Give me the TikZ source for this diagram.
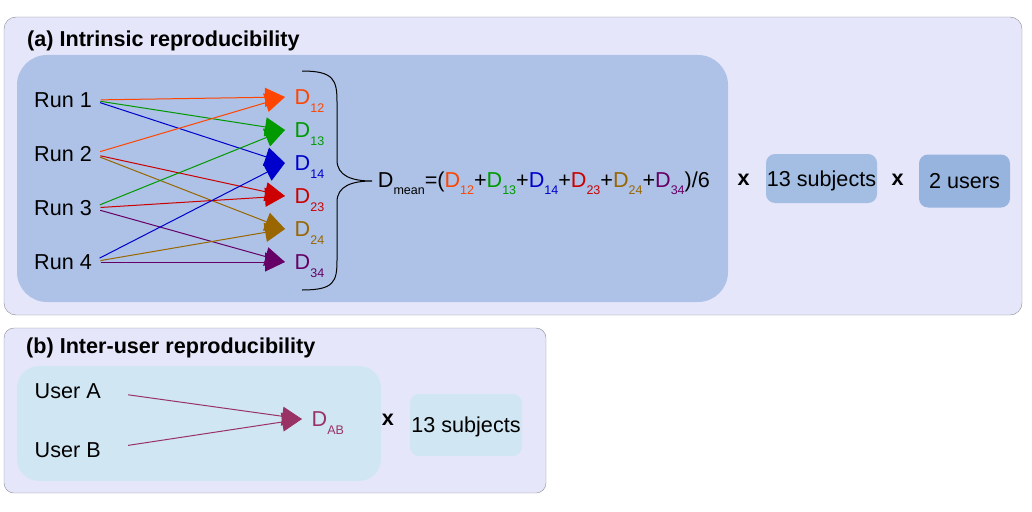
\documentclass[tikz,border=0pt]{standalone}
\usepackage{fontspec}
\setmainfont{Liberation Sans}
\usepackage{tikz}
\usetikzlibrary{arrows.meta}

\definecolor{c12}{HTML}{FF4500}
\definecolor{c13}{HTML}{009900}
\definecolor{c14}{HTML}{0000CC}
\definecolor{c23}{HTML}{CC0000}
\definecolor{c24}{HTML}{996600}
\definecolor{c34}{HTML}{660066}
\definecolor{cab}{HTML}{993366}
\definecolor{panelfill}{HTML}{E6E6FA}
\definecolor{panelline}{HTML}{8C8C96}
\definecolor{runsfill}{HTML}{ADC2E6}
\definecolor{subjfill}{HTML}{A3BDE3}
\definecolor{usersfill}{HTML}{97B4DE}
\definecolor{userfill}{HTML}{D0E6F3}

\newcommand{\sbs}[1]{\raisebox{-7.5pt}{\fontsize{12.5}{13}\selectfont #1}}
\newcommand{\dd}[2]{\textcolor{#1}{D\sbs{#2}}}

\begin{document}
\begin{tikzpicture}[x=1pt,y=-1pt,
  every node/.style={font=\fontsize{21.6}{26}\selectfont},
  title/.style={anchor=base west,inner sep=0,font=\fontsize{21.6}{26}\selectfont\bfseries},
  runlabel/.style={anchor=west,inner sep=0,text height=15.5pt,text depth=0pt},
  dlabel/.style={anchor=west,inner xsep=9.5pt,inner ysep=0,text height=15.5pt,text depth=0pt},
  times/.style={font=\fontsize{21.6}{26}\selectfont\bfseries,inner sep=0},
  countbox/.style={rounded corners=9pt,inner sep=0,text height=15.5pt,text depth=0pt},
  run arrow/.style={line width=1pt,-{Triangle[length=20pt,width=19pt]},shorten <=8.5pt}]
\useasboundingbox (0,0) rectangle (1032,511);

% (a) intrinsic
\draw[panelline,fill=panelfill,rounded corners=12pt] (4,17) rectangle (1022,315);
\fill[runsfill,rounded corners=30pt] (17,55) rectangle (728,302);
\node[title] (ta) at (27,46) {(a) Intrinsic reproducibility};

\node[runlabel] (r1) at (34,100) {Run 1};
\node[runlabel] (r2) at (34,154) {Run 2};
\node[runlabel] (r3) at (34,208) {Run 3};
\node[runlabel] (r4) at (34,262) {Run 4};

\foreach \n/\y in {12/97,13/130,14/163,23/196,24/229,34/262}
  \node[dlabel,text=c\n] (d\n) at (285,\y) {D\sbs{\n}};

\foreach \a/\b in {1/12,1/13,1/14,2/12,2/23,2/24,3/13,3/23,3/34,4/14,4/24,4/34}
  \draw[run arrow,c\b] (r\a.east) -- (d\b.west);

\draw[line width=1pt] (302,71) .. controls (334,71) and (337,80) .. (337,102)
  -- (337,160) .. controls (337,176) and (352,181) .. (372,181)
  .. controls (352,181) and (337,186) .. (337,202)
  -- (337,260) .. controls (337,282) and (334,290) .. (302,290);

\node[anchor=base west,inner sep=0] (dmean) at (377.7,187)
  {D\sbs{mean}=(\dd{c12}{12}+\dd{c13}{13}+\dd{c14}{14}+\dd{c23}{23}+\dd{c24}{24}+\dd{c34}{34})/6};

\node[times] (xa1) at (743.5,180) {x};
\node[countbox,fill=subjfill,minimum width=111pt,minimum height=49pt] (subja) at (821.5,178.5) {13 subjects};
\node[times] (xa2) at (897.5,180) {x};
\node[countbox,fill=usersfill,minimum width=91pt,minimum height=53pt] (users) at (964.5,181) {2 users};

% (b) inter-user
\draw[panelline,fill=panelfill,rounded corners=10pt] (4,328) rectangle (546,493);
\fill[userfill,rounded corners=22pt] (17,366) rectangle (381,481);
\node[title] (tb) at (26,353) {(b) Inter-user reproducibility};

\node[runlabel] (ua) at (34.5,391) {User A};
\node[runlabel] (ub) at (34.5,449.5) {User B};
\node[dlabel,text=cab] (dab) at (302,419) {D\sbs{AB}};
\draw[run arrow,cab,shorten <=27.5pt] (ua.east) -- (dab.west);
\draw[run arrow,cab,shorten <=27.5pt] (ub.east) -- (dab.west);

\node[times] (xb) at (388,420) {x};
\node[countbox,fill=userfill,minimum width=112pt,minimum height=62pt] (subjb) at (466,425) {13 subjects};
\end{tikzpicture}
\end{document}
